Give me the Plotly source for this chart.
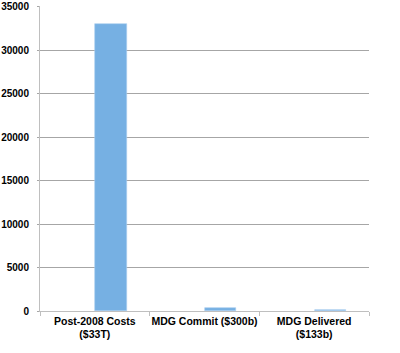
import plotly.graph_objects as go

categories = ["Post-2008 Costs<br>($33T)", "MDG Commit ($300b)", "MDG Delivered<br>($133b)"]
values = [33000, 300, 133]
y_ticks = [0, 5000, 10000, 15000, 20000, 25000, 30000, 35000]
y_tick_labels = ["0", "5000", "10000", "15000", "20000", "25000", "30000", "35000"]

fig = go.Figure()
fig.add_trace(go.Bar(
    x=categories, y=values,
    width=0.285, offset=0.005,
    marker=dict(color="#76B0E3", line=dict(color="#A9CDEE", width=0.6)),
    showlegend=False,
))

fig.update_layout(
    width=400, height=353,
    margin=dict(l=40, r=31, t=6, b=42, autoexpand=False),
    plot_bgcolor="white", paper_bgcolor="white",
    font=dict(family="Liberation Sans, Arial, sans-serif", size=11, color="black"),
    bargap=0,
)
fig.update_xaxes(
    type="category", range=[-0.5, 2.5], automargin=False,
    showline=True, linecolor="#BFBFBF", linewidth=1,
    ticks="outside", tickson="boundaries", ticklen=4, tickcolor="#BFBFBF",
    tickangle=0,
    tickfont=dict(family="Liberation Sans, Arial, sans-serif", size=10.5, weight="bold"),
    showgrid=False, zeroline=False,
)
fig.update_yaxes(
    range=[0, 35060], tickvals=y_ticks, ticktext=y_tick_labels, automargin=False,
    showline=True, linecolor="#BFBFBF", linewidth=1,
    ticks="outside", ticklen=2, tickcolor="#A6A6A6",
    showgrid=True, gridcolor="#A6A6A6", gridwidth=1,
    zeroline=False, ticklabeloverflow="allow",
    tickfont=dict(family="Liberation Sans, Arial, sans-serif", size=10, weight="bold"),
    ticklabelstandoff=6,
)

fig.write_html("out.html")
